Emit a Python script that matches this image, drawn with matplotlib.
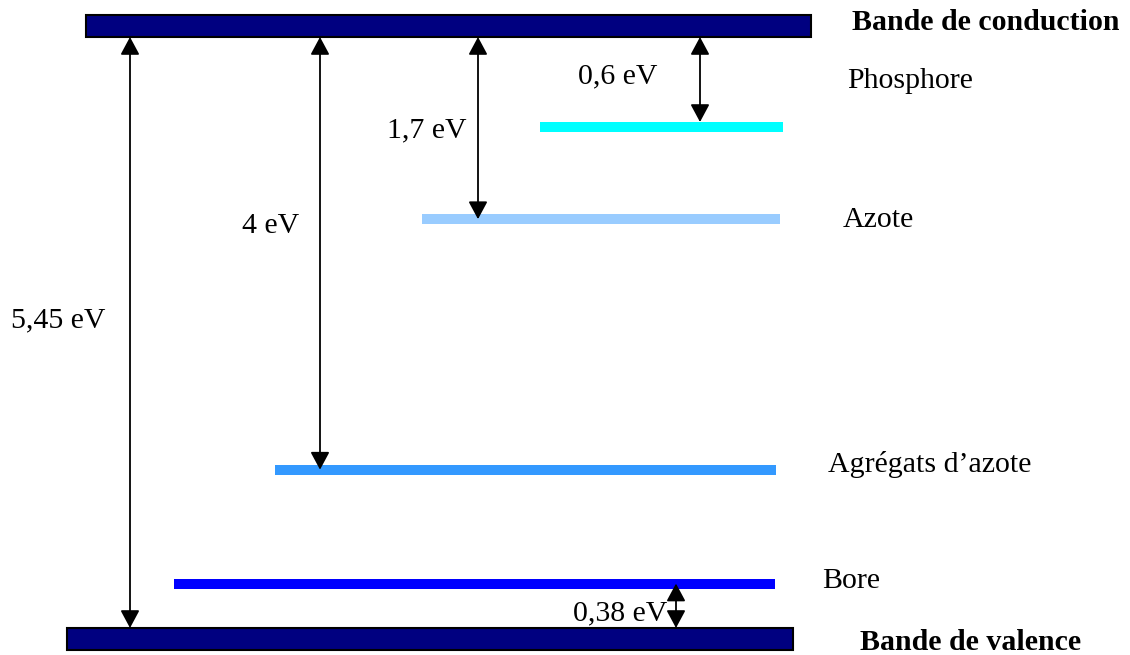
import matplotlib
matplotlib.use("Agg")
import matplotlib.pyplot as plt
from matplotlib.patches import Rectangle

# ---- data ----
gap = 5.45  # eV, band gap
level_names = ["Phosphore", "Azote", "Agrégats d\u2019azote", "Bore"]
level_energy_drawn = [4.62, 3.77, 1.46, 0.41]  # eV above valence band, as drawn
level_colors = ["#00FFFF", "#99CCFF", "#3399FF", "#0000FF"]
gap_labels = ["0,6 eV", "1,7 eV", "4 eV", "5,45 eV", "0,38 eV"]

# ---- layout ----
W, H = 1130, 655
PX_PER_EV = 108.44
Y_VB = 628  # pixel row of valence band top

fig = plt.figure(figsize=(W / 100, H / 100), dpi=100)
ax = fig.add_axes([0, 0, 1, 1])
ax.set_xlim(0, W)
ax.set_ylim(-(H - Y_VB) / PX_PER_EV, Y_VB / PX_PER_EV)
ax.axis("off")

band_h = 22 / PX_PER_EV
# conduction band
ax.add_patch(Rectangle((86, gap), 725, band_h, facecolor="#000080",
                       edgecolor="black", linewidth=1.5, zorder=3))
# valence band
ax.add_patch(Rectangle((67, -band_h), 726, band_h, facecolor="#000080",
                       edgecolor="black", linewidth=1.5, zorder=3))

# impurity levels
level_x = [(540, 783), (422, 780), (275, 776), (174, 775)]
for (x0, x1), e, c in zip(level_x, level_energy_drawn, level_colors):
    ax.hlines(e, x0, x1, colors=c, linewidth=7.2, capstyle="butt", zorder=2)

# arrows
arrow_style = "<|-|>,head_length=0.54,head_width=0.29"
arrows = [
    (700, gap, level_energy_drawn[0], 3.6),
    (478, gap, level_energy_drawn[1], 0),
    (320, gap, level_energy_drawn[2], 0),
    (130, gap, 0.0, 0),
    (676, level_energy_drawn[3], 0.0, 0),
]
for x, e0, e1, shr in arrows:
    ax.annotate("", xy=(x, e1), xytext=(x, e0),
                arrowprops=dict(arrowstyle=arrow_style, mutation_scale=20,
                                lw=1.3, color="black", shrinkA=0, shrinkB=shr),
                zorder=4)

font = dict(family="Liberation Serif", size=21.5, color="black", va="baseline")

def ftext(x, y, s, **kw):
    fig.text(x / W, 1 - y / H, s, **font, **kw)

ftext(852, 30, "Bande de conduction", fontweight="bold")
ftext(860, 650, "Bande de valence", fontweight="bold")
ftext(847, 88, level_names[0])
ftext(843, 227, level_names[1])
ftext(828, 472, level_names[2])
ftext(822, 588, level_names[3])

ftext(578, 83, gap_labels[0])
ftext(387, 137, gap_labels[1])
ftext(242, 233, gap_labels[2])
ftext(11, 327, gap_labels[3])
ftext(667, 620, gap_labels[4], ha="right")

fig.savefig("out.png", dpi=100)
